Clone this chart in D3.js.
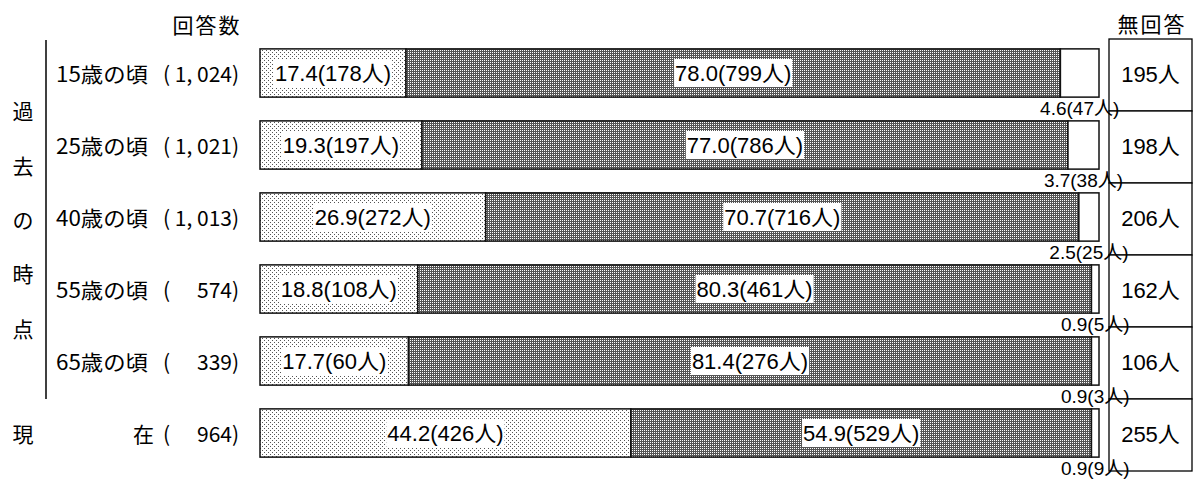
<!DOCTYPE html>
<html><head><meta charset="utf-8">
<script src="https://cdn.jsdelivr.net/npm/d3@7"></script>
<style>
html,body{margin:0;padding:0;background:#fff;}
text{white-space:pre;fill:#000;}
</style></head>
<body>
<svg id="chart" width="1195" height="479"></svg>
<script>
// ---- data ----
const categories = ["15歳の頃","25歳の頃","40歳の頃","55歳の頃","65歳の頃","現在"];
const respondents = ["1,024","1,021","1,013","574","339","964"];
const pctA = [17.4, 19.3, 26.9, 18.8, 17.7, 44.2];
const numA = [178, 197, 272, 108, 60, 426];
const pctB = [78.0, 77.0, 70.7, 80.3, 81.4, 54.9];
const numB = [799, 786, 716, 461, 276, 529];
const pctC = [4.6, 3.7, 2.5, 0.9, 0.9, 0.9];
const numC = [47, 38, 25, 5, 3, 9];
const noAnswer = [195, 198, 206, 162, 106, 255];
const sideLabel = "過去の時点";
const headLeft = "回答数";
const headRight = "無回答";

const svg = d3.select("#chart");
const defs = svg.append("defs");
const pd = defs.append("pattern").attr("id","dots").attr("width",4).attr("height",4).attr("patternUnits","userSpaceOnUse");
pd.append("rect").attr("width",4).attr("height",4).attr("fill","#fff");
pd.append("rect").attr("x",0).attr("y",0).attr("width",1).attr("height",1).attr("fill","#555");
pd.append("rect").attr("x",2).attr("y",2).attr("width",1).attr("height",1).attr("fill","#555");
const pk = defs.append("pattern").attr("id","dark").attr("width",2).attr("height",2).attr("patternUnits","userSpaceOnUse");
pk.append("rect").attr("width",2).attr("height",2).attr("fill","#555");
pk.append("rect").attr("width",1).attr("height",1).attr("fill","#fff");

const FJ = "'Noto Sans CJK JP', sans-serif";
const FN = "'Liberation Sans', 'Noto Sans CJK JP', sans-serif";

const x = d3.scaleLinear().domain([0,100]).range([260,1099]).clamp(true);
const y = d3.scaleBand().domain(categories).range([37,469]).paddingInner(0.33).paddingOuter(0.165);
const bw = y.bandwidth();

const rows = categories.map((c,i)=>({cat:c, a:pctA[i], b:pctB[i], c:pctC[i], na:numA[i], nb:numB[i], nc:numC[i]}));
const stack = d3.stack().keys(["a","b","c"]);
const series = stack(rows);
const fills = {a:"url(#dots)", b:"url(#dark)", c:"#fff"};
const counts = {a:"na", b:"nb", c:"nc"};

series.forEach(s=>{
  const g = svg.append("g");
  g.selectAll("rect").data(s).join("rect")
    .attr("x", d=>x(d[0]))
    .attr("y", d=>y(d.data.cat))
    .attr("width", d=>Math.max(0, x(d[1])-x(d[0])))
    .attr("height", bw)
    .attr("fill", fills[s.key])
    .attr("stroke","#111").attr("stroke-width",1.5);
});

// in-bar labels (a, b)
["a","b"].forEach((k,si)=>{
  const s = series[si];
  s.forEach(d=>{
    const cx = (x(d[0])+x(d[1]))/2;
    const cy = y(d.data.cat)+bw/2;
    const g = svg.append("g");
    const r = g.append("rect");
    const t = g.append("text").attr("x",cx).attr("y",cy).attr("text-anchor","middle")
      .attr("dominant-baseline","central").attr("font-family",FN).attr("font-size",22)
      .text(d.data[k].toFixed(1)+"("+d.data[counts[k]]+"人)");
    const bb = t.node().getBBox();
    r.attr("x",bb.x-1).attr("y",cy-14).attr("width",bb.width+2).attr("height",28).attr("fill","#fff");
  });
});

// no-answer box
const boxX = 1109, boxW = 83;
const step = y.step();
const cellTop = i => 39 + i*step;
svg.append("g").selectAll("rect").data(noAnswer).join("rect")
  .attr("x",boxX).attr("y",(d,i)=>cellTop(i)).attr("width",boxW).attr("height",step)
  .attr("fill","#fff").attr("stroke","#000").attr("stroke-width",1.3);
svg.append("g").selectAll("text").data(noAnswer).join("text")
  .attr("x",boxX+boxW/2).attr("y",(d,i)=>y(categories[i])+bw/2+1)
  .attr("text-anchor","middle").attr("dominant-baseline","central")
  .attr("font-family",FN).attr("font-size",22).text(d=>d+"人");

// small labels (c) below bar end
svg.append("g").selectAll("text").data(series[2]).join("text")
  .attr("x",d=>(x(d[0])+x(d[1]))/2)
  .attr("y",d=>y(d.data.cat)+bw+11)
  .attr("text-anchor","middle").attr("dominant-baseline","central")
  .attr("font-family",FN).attr("font-size",19)
  .text(d=>d.data.c.toFixed(1)+"("+d.data.nc+"人)");

// headers
svg.append("text").attr("x",207).attr("y",24).attr("text-anchor","middle").attr("dominant-baseline","central")
  .attr("font-family",FJ).attr("font-size",21).attr("letter-spacing",2).text(headLeft);
svg.append("text").attr("x",1152).attr("y",23).attr("text-anchor","middle").attr("dominant-baseline","central")
  .attr("font-family",FJ).attr("font-size",21).attr("letter-spacing",2).text(headRight);

// side vertical label
const sideYs = [110, 165, 219, 273, 328];
svg.append("g").selectAll("text").data(sideLabel.split("")).join("text")
  .attr("x",23).attr("y",(d,i)=>sideYs[i]).attr("text-anchor","middle").attr("dominant-baseline","central")
  .attr("font-family",FJ).attr("font-size",21).text(d=>d);
svg.append("line").attr("x1",46).attr("x2",46).attr("y1",40).attr("y2",399).attr("stroke","#000").attr("stroke-width",1.5);

// row labels
categories.forEach((c,i)=>{
  const cy = y(c)+bw/2;
  if (c === "現在") {
    svg.append("text").attr("x",23).attr("y",cy).attr("text-anchor","middle").attr("dominant-baseline","central")
      .attr("font-family",FJ).attr("font-size",21).text(c[0]);
    svg.append("text").attr("x",133).attr("y",cy).attr("dominant-baseline","central")
      .attr("font-family",FJ).attr("font-size",21).text(c[1]);
  } else {
    svg.append("text").attr("x",56).attr("y",cy).attr("dominant-baseline","central")
      .attr("font-family",FJ).attr("font-size",21).attr("textLength",92).attr("lengthAdjust","spacingAndGlyphs").text(c);
  }
  svg.append("text").attr("x",163).attr("y",cy).attr("dominant-baseline","central")
    .attr("font-family",FJ).attr("font-size",21).text("(");
  svg.append("text").attr("x",232).attr("y",cy).attr("text-anchor","end").attr("dominant-baseline","central")
    .attr("font-family",FJ).attr("font-size",21).text(respondents[i].replace(",",", "));
  svg.append("text").attr("x",232).attr("y",cy).attr("dominant-baseline","central")
    .attr("font-family",FJ).attr("font-size",21).text(")");
});
</script>
</body></html>
